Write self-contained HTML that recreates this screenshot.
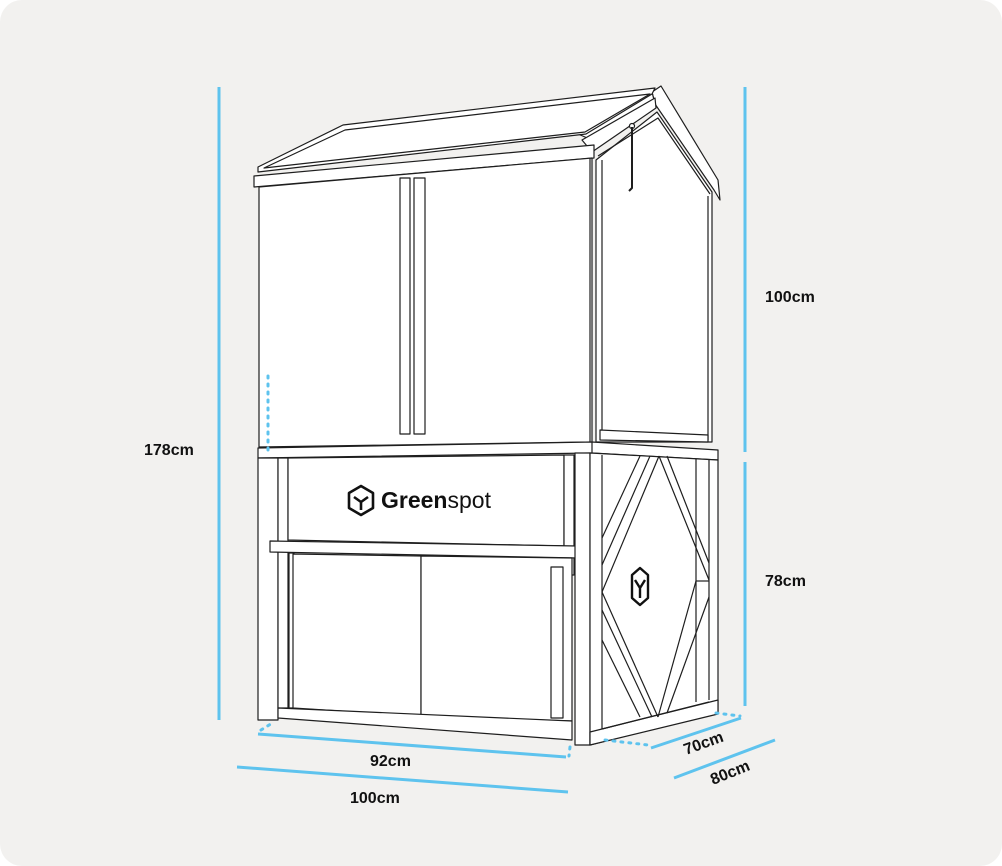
<!DOCTYPE html>
<html><head><meta charset="utf-8"><style>
html,body{margin:0;padding:0;background:#fff}
#c{position:absolute;left:0;top:0;width:1002px;height:866px;background:#f2f1ef;border-radius:22px;overflow:hidden}
svg{position:absolute;left:0;top:0}
text{font-family:"Liberation Sans",sans-serif;font-weight:bold;font-size:16px;fill:#111}
</style></head><body><div id="c">
<svg width="1002" height="866" viewBox="0 0 1002 866">
<g fill="#fff" stroke="#1e1e1e" stroke-width="1.2" stroke-linejoin="round">
<polygon points="596,160 657,112 712,192 712,442 596,442"/>
<polyline fill="none" points="598,156 658,118 710,194"/>
<line x1="602" y1="160" x2="602" y2="440"/>
<line x1="708" y1="196" x2="708" y2="440"/>
<polygon points="600,430 708,435 708,442 600,440"/>
<polygon points="652,92 661,86 718,180 720,200 714,190 655,104"/>
<polygon points="578,134 652,92 655,104 592,140"/>
<polygon points="582,140 655,98 656,108 592,152"/>
<circle cx="632" cy="126" r="2.5"/>
<path d="M632,127 L632,188 L629,191" fill="none" stroke-width="2"/>
<polygon points="258,167 343,125 655,88 652,94 586,134 258,172"/>
<polygon points="264,168 345,130 650,94 585,132"/>
<polygon points="254,176 594,145 594,158 254,187"/>
<polygon points="259,187 592,158 592,442 259,447"/>
<line x1="590" y1="158" x2="590" y2="442"/>
<rect x="400" y="178" width="10" height="256"/>
<rect x="414" y="178" width="11" height="256"/>
<polygon points="258,448 592,442 718,450 718,460 592,453 258,458"/>
<line x1="592" y1="442" x2="592" y2="453"/>
<rect x="258" y="458" width="20" height="262"/>
<rect x="278" y="458" width="10" height="250"/>
<polygon points="288,458 564,455 564,546 288,540"/>
<rect x="564" y="455" width="10" height="120"/>
<polygon points="270,541 578,546 578,558 270,552"/>
<rect x="289" y="553" width="5" height="155"/>
<polygon points="293,554 421,556 421,716 293,708"/>
<polygon points="421,556 572,558 572,721 421,716"/>
<rect x="551" y="567" width="12" height="151"/>
<polygon points="278,708 572,721 572,740 278,718"/>
<rect x="575" y="453" width="15" height="292"/>
<polygon points="590,453 718,460 718,712 590,745"/>
<line x1="602" y1="455" x2="602" y2="730"/>
<line x1="696" y1="459" x2="696" y2="702"/>
<line x1="709" y1="460" x2="709" y2="700"/>
<polygon points="590,732 718,700 718,714 590,745"/>
<line x1="602" y1="729" x2="709" y2="702"/>
<g fill="none">
<line x1="640" y1="456" x2="602" y2="538"/>
<line x1="650" y1="456" x2="602" y2="565"/>
<line x1="659" y1="456" x2="602" y2="592"/>
<line x1="659" y1="456" x2="709" y2="580"/>
<line x1="667" y1="456" x2="709" y2="563"/>
<line x1="602" y1="592" x2="658" y2="717"/>
<line x1="602" y1="610" x2="652" y2="717"/>
<line x1="602" y1="640" x2="640" y2="717"/>
<line x1="696" y1="581" x2="709" y2="581"/>
<line x1="696" y1="581" x2="658" y2="717"/>
<line x1="709" y1="597" x2="667" y2="713"/>
</g>
<path d="M361,486 L373,493 L373,508 L361,515 L349,508 L349,493 Z M354,497 L361,502 L368,497 M361,502 L361,510" fill="none" stroke-width="2.6" stroke="#111"/>
<path d="M640,568 L648,575 L648,598 L640,605 L632,598 L632,575 Z M635,580 L640,588 L645,580 M640,588 L640,598" fill="none" stroke-width="2.4" stroke="#111"/>
</g>
<text x="381" y="508" style="font-size:23px">Green<tspan style="font-weight:normal">spot</tspan></text>
<g stroke="#5ec3ee" stroke-width="3" fill="none">
<line x1="219" y1="87" x2="219" y2="720"/>
<line x1="745" y1="87" x2="745" y2="452"/>
<line x1="745" y1="462" x2="745" y2="706"/>
<line x1="258" y1="734" x2="566" y2="757"/>
<line x1="237" y1="767" x2="568" y2="792"/>
<line x1="651" y1="748" x2="741" y2="718"/>
<line x1="674" y1="778" x2="775" y2="740"/>
</g>
<g stroke="#5ec3ee" stroke-width="3" stroke-dasharray="2 6" stroke-linecap="round" fill="none">
<line x1="268" y1="376" x2="268" y2="452"/>
<line x1="261" y1="730" x2="274" y2="722"/>
<line x1="605" y1="740" x2="648" y2="745"/>
<line x1="716" y1="713" x2="740" y2="716"/>
<line x1="570" y1="747" x2="569" y2="756"/>
</g>
<text x="144" y="455">178cm</text>
<text x="765" y="302">100cm</text>
<text x="765" y="586">78cm</text>
<text x="370" y="766">92cm</text>
<text x="350" y="803">100cm</text>
<text x="0" y="0" transform="translate(686,755) rotate(-20)">70cm</text>
<text x="0" y="0" transform="translate(713,785) rotate(-22)">80cm</text>
</svg></div></body></html>
